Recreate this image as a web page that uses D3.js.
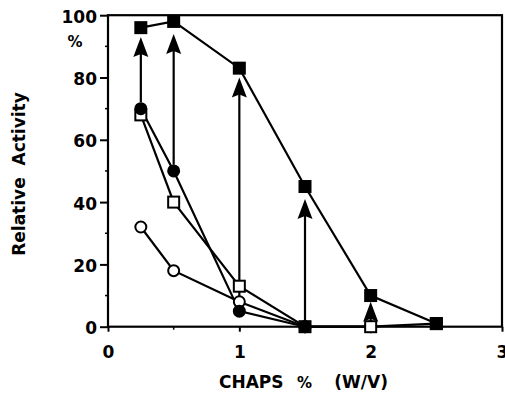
<!DOCTYPE html>
<html>
<head>
<meta charset="utf-8">
<script src="https://cdn.jsdelivr.net/npm/d3@7"></script>
<style>
  body { margin: 0; background: #fff; }
  text { font-family: "DejaVu Sans", "Liberation Sans", Arial, sans-serif; font-weight: bold; fill: #000; }
</style>
</head>
<body>
<svg width="505" height="393"></svg>
<script>
// data
const filledSquareX = [0.25, 0.5, 1, 1.5, 2, 2.5];
const filledSquareY = [96, 98, 83, 45, 10, 1];

const filledCircleX = [0.25, 0.5, 1, 1.5];
const filledCircleY = [70, 50, 5, 0];

const openSquareX = [0.25, 0.5, 1, 1.5, 2, 2.5];
const openSquareY = [68, 40, 13, 0, 0, 1];

const openCircleX = [0.25, 0.5, 1, 1.5, 2];
const openCircleY = [32, 18, 8, 0, 0];

// arrows: from value up to tip value
const arrowX = [0.25, 0.5, 1, 1.5, 2];
const arrowFrom = [72, 52, 8, 0, 0];
const arrowTo = [93, 94, 80, 41, 8];

const xTicks = [0, 1, 2, 3];
const yTicks = [0, 20, 40, 60, 80, 100];

const svg = d3.select("svg");

const x = d3.scaleLinear().domain([0, 3]).range([108, 502]);
const y = d3.scaleLinear().domain([0, 100]).range([326.7, 15.2]);

// frame
svg.append("rect")
  .attr("x", x(0)).attr("y", y(100))
  .attr("width", x(3) - x(0)).attr("height", y(0) - y(100))
  .attr("fill", "none").attr("stroke", "#000").attr("stroke-width", 2.2);

// y axis
const yAxis = d3.axisLeft(y).tickValues(yTicks).tickSize(8).tickPadding(3);
const gy = svg.append("g").attr("transform", `translate(${x(0)},0)`).call(yAxis);
gy.select(".domain").remove();
gy.selectAll("line").attr("stroke-width", 2);
gy.selectAll("text").style("font-size", "17px").attr("dy", "0.42em");

// minor y ticks
svg.append("g").selectAll("line")
  .data([10, 30, 50, 70, 90])
  .join("line")
  .attr("x1", x(0) - 3).attr("x2", x(0))
  .attr("y1", d => y(d)).attr("y2", d => y(d))
  .attr("stroke", "#000").attr("stroke-width", 1.5);

// x axis
const xAxis = d3.axisBottom(x).tickValues(xTicks).tickFormat(d3.format("d")).tickSize(5).tickPadding(14);
const gx = svg.append("g").attr("transform", `translate(0,${y(0)})`).call(xAxis);
gx.select(".domain").remove();
gx.selectAll("line").attr("stroke-width", 2);
gx.selectAll("text").style("font-size", "17px");

svg.append("g").selectAll("line")
  .data([0.5, 1.5, 2.5])
  .join("line")
  .attr("x1", d => x(d)).attr("x2", d => x(d))
  .attr("y1", y(0)).attr("y2", y(0) + 3)
  .attr("stroke", "#000").attr("stroke-width", 1.5);

// "%" under 100
svg.append("text").attr("x", 75).attr("y", 47)
  .attr("text-anchor", "middle").style("font-size", "15px").text("%");

// axis titles
svg.append("text")
  .attr("transform", "translate(25,174) rotate(-90)")
  .attr("text-anchor", "middle").style("font-size", "17px")
  .style("white-space", "pre")
  .text("Relative  Activity");

const xt = svg.append("g");
xt.append("text").attr("x", 219).attr("y", 388).style("font-size", "17px").text("CHAPS");
xt.append("text").attr("x", 297).attr("y", 388).style("font-size", "15px").text("%");
xt.append("text").attr("x", 388).attr("y", 388).attr("text-anchor", "end")
  .style("font-size", "17px").text("(W/V)");

// lines
const line = d3.line().x(d => x(d[0])).y(d => y(d[1]));
const zip = (a, b) => a.map((v, i) => [v, b[i]]);

const series = [
  { pts: zip(filledSquareX, filledSquareY), shape: "square", fill: "#000" },
  { pts: zip(filledCircleX, filledCircleY), shape: "circle", fill: "#000" },
  { pts: zip(openSquareX, openSquareY), shape: "square", fill: "#fff" },
  { pts: zip(openCircleX, openCircleY), shape: "circle", fill: "#fff" }
];

series.forEach(s => {
  svg.append("path")
    .attr("d", line(s.pts))
    .attr("fill", "none").attr("stroke", "#000").attr("stroke-width", 2.2);
});

// arrows
const arrows = zip(arrowX, zip(arrowFrom, arrowTo));
const ag = svg.append("g");
ag.selectAll("line")
  .data(arrows)
  .join("line")
  .attr("x1", d => x(d[0])).attr("x2", d => x(d[0]))
  .attr("y1", d => y(d[1][0])).attr("y2", d => y(d[1][1]) + 10)
  .attr("stroke", "#000").attr("stroke-width", 2.2);
ag.selectAll("path")
  .data(arrows)
  .join("path")
  .attr("d", d => {
    const cx = x(d[0]), ty = y(d[1][1]);
    const h = Math.min(20, y(d[1][0]) - ty);
    return `M${cx},${ty} L${cx - 7.5},${ty + h} L${cx},${ty + h - 3} L${cx + 7.5},${ty + h} Z`;
  })
  .attr("fill", "#000");

// markers, drawn bottom to top
series.slice().reverse().forEach(s => {
  const g = svg.append("g");
  if (s.shape === "square") {
    g.selectAll("rect").data(s.pts).join("rect")
      .attr("x", d => x(d[0]) - 5.5).attr("y", d => y(d[1]) - 5.5)
      .attr("width", 11).attr("height", 11)
      .attr("fill", s.fill).attr("stroke", "#000").attr("stroke-width", 2);
  } else {
    g.selectAll("circle").data(s.pts).join("circle")
      .attr("cx", d => x(d[0])).attr("cy", d => y(d[1]))
      .attr("r", 5.5)
      .attr("fill", s.fill).attr("stroke", "#000").attr("stroke-width", 2);
  }
});
</script>
</body>
</html>
